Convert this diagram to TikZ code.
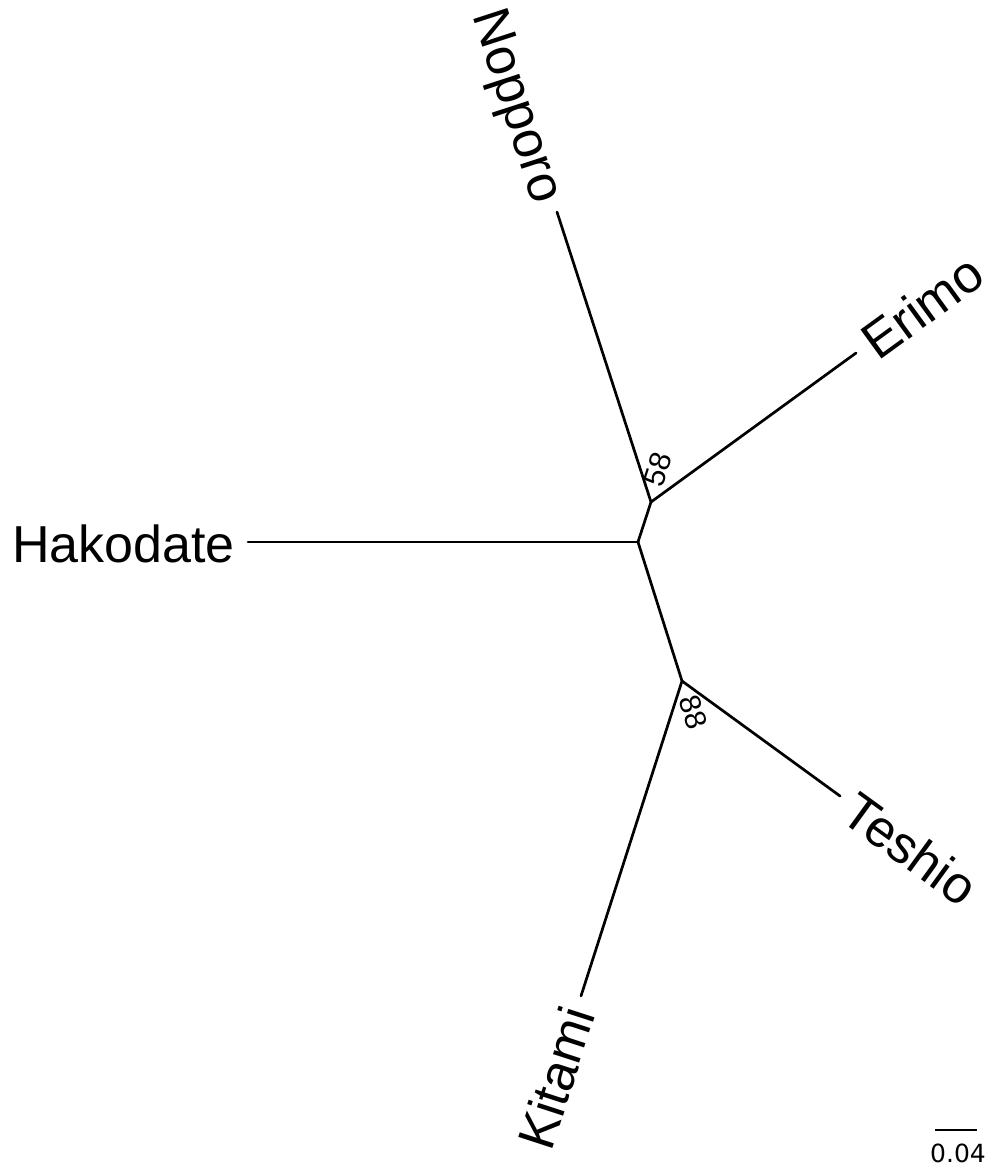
\documentclass[tikz,border=0pt]{standalone}
\usepackage{fontspec}
\setmainfont{Liberation Sans}
\newfontfamily\scalefont{DejaVu Sans}
\usetikzlibrary{positioning}

\tikzset{
	branch/.style={line width=2.7pt, line cap=round},
	tiplabel/.style={font=\fontsize{52}{52}\selectfont, inner xsep=13pt, inner ysep=0pt,
		text height=40pt, text depth=0pt},
	bootlabel/.style={font=\fontsize{30}{30}\selectfont, inner sep=0pt}
}

\begin{document}
\begin{tikzpicture}[x=1pt, y=-1pt]
	\useasboundingbox (0,0) rectangle (1002,1168);
	% internal nodes
	\coordinate (root) at (638,542);
	\coordinate (nupper) at (651,502);
	\coordinate (nlower) at (682,681);
	% tips
	\coordinate (hakodate) at (248,542);
	\coordinate (nopporo) at (557,212);
	\coordinate (erimo) at (856,353);
	\coordinate (teshio) at (840,796);
	\coordinate (kitami) at (581,996);
	\draw[branch] (root) -- (hakodate);
	\draw[branch] (root) -- (nupper);
	\draw[branch] (root) -- (nlower);
	\draw[branch] (nupper) -- (nopporo);
	\draw[branch] (nupper) -- (erimo);
	\draw[branch] (nlower) -- (teshio);
	\draw[branch] (nlower) -- (kitami);
	% tip labels
	\node[tiplabel, anchor=east] (lhakodate) at (hakodate) {Hakodate};
	\node[tiplabel, anchor=east, rotate=-72] (lnopporo) at (nopporo) {Nopporo};
	\node[tiplabel, anchor=west, rotate=36] (lerimo) at (erimo) {Erimo};
	\node[tiplabel, anchor=west, rotate=-36] (lteshio) at (teshio) {Teshio};
	\node[tiplabel, anchor=east, rotate=72] (lkitami) at (kitami) {Kitami};
	% bootstrap values
	\node[bootlabel, rotate=72] (bupper) at (658,469) {58};
	\node[bootlabel, rotate=-72] (blower) at (693,712) {88};
	% scale bar
	\coordinate (sbleft) at (935,1130);
	\coordinate (sbright) at (977,1130);
	\draw[line width=2.7pt] (sbleft) -- (sbright);
	\node[font=\scalefont\fontsize{25}{25}\selectfont, inner sep=0pt, anchor=base] (sblabel) at (958,1162) {0.04};
\end{tikzpicture}
\end{document}
